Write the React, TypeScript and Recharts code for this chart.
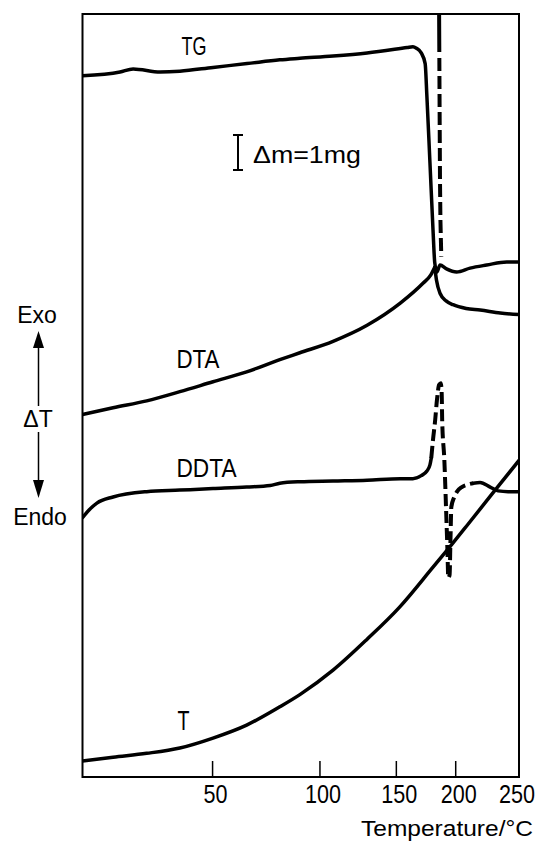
import React from "react";
import {
  LineChart,
  Line,
  XAxis,
  YAxis,
  ReferenceArea,
  Customized,
} from "recharts";

// x = time (arbitrary units, 0..100), labelled with the furnace temperature
const timeTicks = [29.8, 54.4, 71.9, 85.5, 100];
const tempLabels = ["50", "100", "150", "200", "250"];

// TG (mass)
const tgTime = [0, 8.6, 11.6, 17.8, 22.3, 29.9, 37.7, 45.2, 49.8, 57.4, 65.2, 74.4, 75.7, 76.5, 77.6, 78.5, 78.9, 79.6, 80.3, 80.7, 81.2, 81.9, 83.4, 85.7, 88.8, 92.6, 97.2, 100];
const tgMass = [91.9, 92.4, 92.8, 92.4, 92.5, 93.0, 93.5, 94.0, 94.2, 94.5, 94.9, 95.6, 95.7, 95.5, 94.9, 93.5, 89.2, 80.5, 71.7, 67.4, 66.2, 67.1, 66.6, 66.2, 66.7, 67.1, 67.5, 67.5];

// DTG-like dashed trace near the mass loss
const dtgTime = [81.7, 81.8, 81.9, 82.0, 82.1, 82.2];
const dtgValue = [100, 88.7, 78.2, 73.0, 70.5, 68.2];

// DTA, before and after the peak
const dtaTime = [0, 7.0, 14.7, 22.3, 29.9, 37.6, 45.2, 49.8, 57.4, 65.2, 72.8, 78.0, 79.8, 80.7];
const dtaSignal = [47.5, 48.4, 49.3, 50.5, 51.8, 53.1, 54.7, 55.6, 57.1, 59.2, 62.1, 64.7, 65.8, 66.8];
const dtaTimeAfter = [80.7, 81.1, 81.9, 83.3, 84.9, 87.9, 91.1, 95.7, 100];
const dtaSignalAfter = [66.8, 65.1, 63.4, 62.4, 61.9, 61.4, 61.2, 60.8, 60.6];

// DDTA: solid, dashed around the event, solid again
const ddtaTime = [0, 1.5, 3.3, 7.0, 14.7, 22.3, 29.9, 37.6, 43.0, 45.2, 49.8, 57.4, 65.2, 72.8, 75.7, 77.6, 78.9, 79.6, 79.9];
const ddtaSignal = [34.0, 35.0, 35.9, 36.7, 37.4, 37.6, 37.8, 38.0, 38.2, 38.5, 38.7, 38.8, 38.9, 39.1, 39.1, 39.5, 40.1, 40.9, 41.8];
const ddtaDashTime = [79.9, 80.3, 80.8, 81.2, 81.7, 82.1, 82.3, 82.4, 82.9, 83.3, 83.6, 83.8, 84.1, 84.3, 84.5, 85.1, 85.8, 86.9, 88.1, 89.5];
const ddtaDashSignal = [41.8, 44.2, 46.8, 49.4, 51.4, 51.6, 50.1, 46.8, 41.5, 35.0, 29.8, 26.1, 26.5, 31.1, 35.4, 36.6, 37.4, 38.0, 38.3, 38.5];
const ddtaTimeAfter = [89.5, 91.1, 93.4, 95.2, 97.5, 100];
const ddtaSignalAfter = [38.5, 38.6, 38.0, 37.5, 37.4, 37.4];

// T (temperature trace)
const tTime = [0, 7.0, 14.7, 22.3, 29.9, 37.6, 45.2, 49.8, 57.4, 65.1, 72.7, 80.3, 84.2, 88.0, 93.7, 100];
const tValue = [2.1, 2.6, 3.1, 3.8, 5.1, 6.8, 9.2, 10.8, 14.0, 18.0, 22.3, 27.5, 30.2, 32.9, 37.0, 41.5];

const zip = (xs: number[], ys: number[]) => xs.map((x, i) => ({ x, y: ys[i] }));

const SANS = "'Liberation Sans', Arial, sans-serif";

// narrow digits like the original lettering
function TempTick(props: any) {
  const { x, y, payload } = props;
  const idx = timeTicks.indexOf(payload.value);
  const label = tempLabels[idx] ?? "";
  const last = idx === timeTicks.length - 1;
  return (
    <text
      x={last ? x - 2 : x + 3}
      y={y + 20}
      textAnchor="middle"
      fontFamily={SANS}
      fontSize={25}
      fill="#000"
      textLength={label.length * 12}
      lengthAdjust="spacingAndGlyphs"
    >
      {label}
    </text>
  );
}

function Annotations() {
  const name = { fontFamily: SANS, fontSize: 25, lengthAdjust: "spacingAndGlyphs" as const };
  return (
    <g>
      {/* curve names */}
      <text x={181.5} y={55} {...name} textLength={25}>TG</text>
      <text x={176.5} y={368} {...name} textLength={43}>DTA</text>
      <text x={176.5} y={477} {...name} textLength={60}>DDTA</text>
      <text x={177.5} y={730} {...name} fontSize={27} textLength={12}>T</text>

      {/* mass scale bar */}
      <line x1={238} y1={135} x2={238} y2={170} stroke="#000" strokeWidth={2} />
      <line x1={233} y1={135} x2={243} y2={135} stroke="#000" strokeWidth={2} />
      <line x1={233} y1={170} x2={243} y2={170} stroke="#000" strokeWidth={2} />
      <text x={253} y={163} fontFamily={SANS} fontSize={23} textLength={108} lengthAdjust="spacingAndGlyphs">
        Δm=1mg
      </text>

      {/* Exo / ΔT / Endo */}
      <text x={37} y={323} textAnchor="middle" fontFamily={SANS} fontSize={23}>Exo</text>
      <polygon points="38.5,331 33,348 44,348" fill="#000" />
      <line x1={38.5} y1={348} x2={38.5} y2={406} stroke="#000" strokeWidth={1.5} />
      <text x={38} y={427} textAnchor="middle" fontFamily={SANS} fontSize={23}>ΔT</text>
      <line x1={38.5} y1={432} x2={38.5} y2={481} stroke="#000" strokeWidth={1.5} />
      <polygon points="33,480 44,480 38.5,498" fill="#000" />
      <text x={40} y={525} textAnchor="middle" fontFamily={SANS} fontSize={23}>Endo</text>

      {/* axis title */}
      <text x={533} y={836} textAnchor="end" fontFamily={SANS} fontSize={22} textLength={172} lengthAdjust="spacingAndGlyphs">
        Temperature/°C
      </text>
    </g>
  );
}

export default function App() {
  const line = { stroke: "#000", dot: false, isAnimationActive: false, strokeLinecap: "round" as const, strokeLinejoin: "round" as const };
  return (
    <div style={{ position: "absolute", left: 0, top: 0, width: 543, height: 842, background: "#fff" }}>
      <LineChart width={543} height={842} margin={{ top: 14, right: 24, left: 82.5, bottom: 35 }}>
        <XAxis
          type="number"
          dataKey="x"
          domain={[0, 100]}
          allowDataOverflow
          ticks={timeTicks}
          interval={0}
          height={30}
          axisLine={false}
          tickLine={{ stroke: "#000", strokeWidth: 1.5 }}
          tickSize={-16}
          tickMargin={22}
          tick={<TempTick />}
        />
        <YAxis type="number" dataKey="y" domain={[0, 100]} allowDataOverflow hide />

        <ReferenceArea x1={0} x2={100} y1={0} y2={100} fill="none" stroke="#000" strokeWidth={2} ifOverflow="visible" />

        <Line {...line} data={zip(tgTime, tgMass)} dataKey="y" type="monotone" strokeWidth={3.5} />
        <Line {...line} data={zip(dtgTime, dtgValue)} dataKey="y" type="linear" strokeWidth={4} strokeDasharray="38 6 13 5 13 5 13 5 13 5 13 5 13 5 13 5 13 5 13 5 13 5 13 5 13 5 13 5" strokeLinecap="butt" />
        <Line {...line} data={zip(dtaTime, dtaSignal)} dataKey="y" type="monotone" strokeWidth={3.5} />
        <Line {...line} data={zip(dtaTimeAfter, dtaSignalAfter)} dataKey="y" type="monotone" strokeWidth={3.5} />
        <Line {...line} data={zip(ddtaTime, ddtaSignal)} dataKey="y" type="monotone" strokeWidth={3.5} />
        <Line {...line} data={zip(ddtaDashTime, ddtaDashSignal)} dataKey="y" type="monotone" strokeWidth={4} strokeDasharray="12 5" strokeLinecap="butt" />
        <Line {...line} data={zip(ddtaTimeAfter, ddtaSignalAfter)} dataKey="y" type="monotone" strokeWidth={3.5} />
        <Line {...line} data={zip(tTime, tValue)} dataKey="y" type="monotone" strokeWidth={3.5} />

        <Customized component={Annotations} />
      </LineChart>
    </div>
  );
}
